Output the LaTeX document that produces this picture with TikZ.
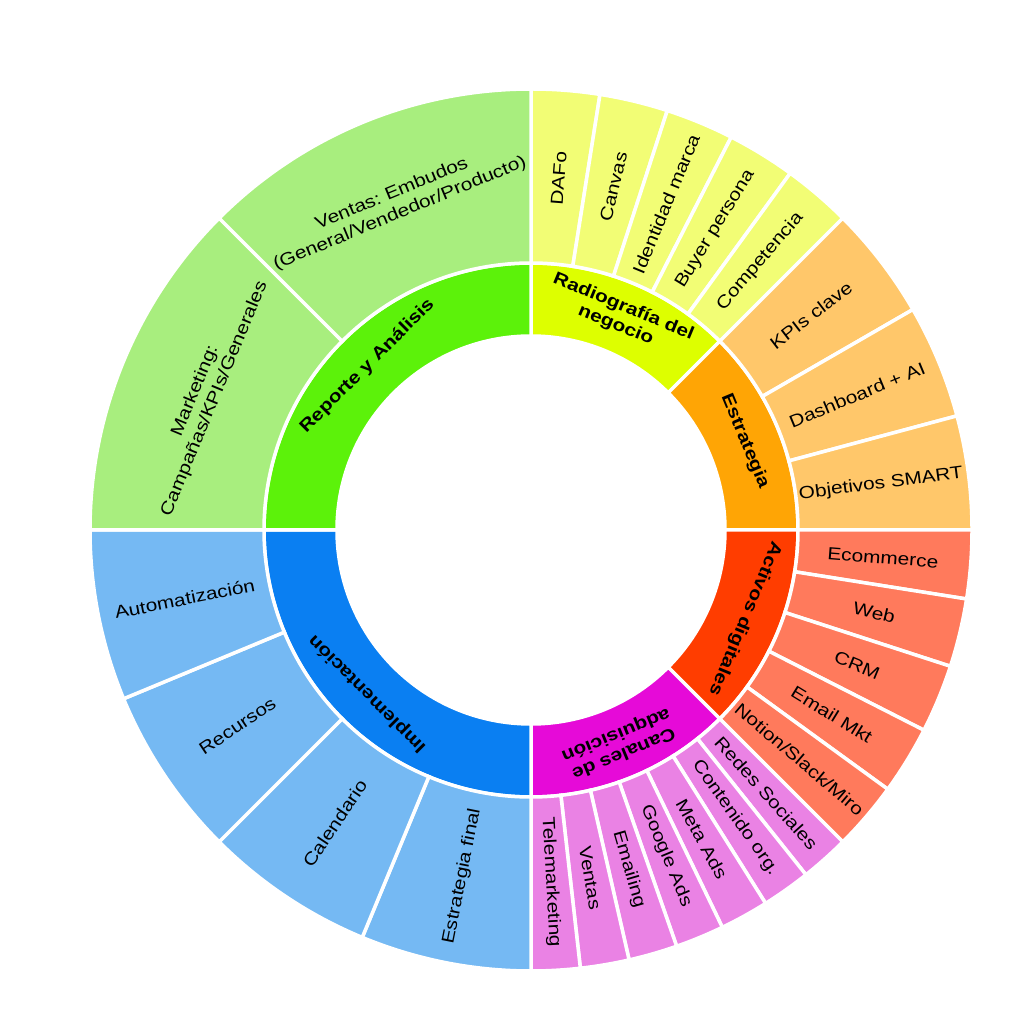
\documentclass[tikz,border=0pt]{standalone}
\usepackage{fontspec}
\setmainfont[FakeStretch=1.19]{Liberation Sans}
\frenchspacing
\usetikzlibrary{calc}
\definecolor{radI}{HTML}{DDFF00}
\definecolor{radO}{HTML}{F2FD75}
\definecolor{estI}{HTML}{FFA505}
\definecolor{estO}{HTML}{FFC76A}
\definecolor{actI}{HTML}{FF3D00}
\definecolor{actO}{HTML}{FF7A5C}
\definecolor{canI}{HTML}{E60AD8}
\definecolor{canO}{HTML}{EA82E4}
\definecolor{impI}{HTML}{0A7FF2}
\definecolor{impO}{HTML}{75B9F3}
\definecolor{repI}{HTML}{5CF20A}
\definecolor{repO}{HTML}{A8EE7E}
\newcommand{\sect}[5]{%
  \pgfmathsetmacro\angA{90-(#1)}%
  \pgfmathsetmacro\angB{90-(#2)}%
  \filldraw[fill=#5,draw=white,line width=3.5pt]
  ([shift={(C)}]\angA:#3pt) -- ([shift={(C)}]\angA:#4pt)
  arc[start angle=\angA, end angle=\angB, radius=#4pt]
  -- ([shift={(C)}]\angB:#3pt)
  arc[start angle=\angB, end angle=\angA, radius=#3pt] -- cycle;}
\newcommand{\olab}[4]{%
  \pgfmathsetmacro\angL{90-(#2)}%
  \node[lab, rotate=#3] (#1) at ([shift={(C)}]\angL:353pt) {#4};}
\newcommand{\ilab}[4]{%
  \pgfmathsetmacro\angL{90-(#2)}%
  \node[lab, font=\fontsize{17.5}{20}\selectfont\bfseries, rotate=#3] (#1) at ([shift={(C)}]\angL:231.5pt) {#4};}
\begin{document}
\begin{tikzpicture}[x=1pt,y=1pt,
  lab/.style={font=\fontsize{17.5}{21}\selectfont, text=black, align=center, inner sep=0pt}]
\useasboundingbox[fill=white] (0,0) rectangle (1024,1017);
\coordinate (C) at (531,487);
% inner ring
\sect{0}{45}{194}{267}{radI}
\sect{45}{90}{194}{267}{estI}
\sect{90}{135}{194}{267}{actI}
\sect{135}{180}{194}{267}{canI}
\sect{180}{270}{194}{267}{impI}
\sect{270}{360}{194}{267}{repI}
% outer ring: Radiografia
\foreach \i in {0,...,4}{\sect{9*\i}{9*\i+9}{267}{441}{radO}}
% Estrategia
\foreach \i in {0,...,2}{\sect{45+15*\i}{60+15*\i}{267}{441}{estO}}
% Activos
\foreach \i in {0,...,4}{\sect{90+9*\i}{99+9*\i}{267}{441}{actO}}
% Canales
\foreach \i in {0,...,6}{\sect{135+45/7*\i}{135+45/7*(\i+1)}{267}{441}{canO}}
% Implementacion
\foreach \i in {0,...,3}{\sect{180+22.5*\i}{202.5+22.5*\i}{267}{441}{impO}}
% Reporte
\foreach \i in {0,1}{\sect{270+45*\i}{315+45*\i}{267}{441}{repO}}
% inner labels
\ilab{radiografia}{22.5}{-22.5}{Radiografía del\\negocio}
\ilab{estrategia}{67.5}{-67.5}{Estrategia}
\ilab{activos}{112.5}{-112.5}{Activos digitales}
\ilab{canales}{157.5}{-157.5}{Canales de\\adquisición}
\ilab{implementacion}{225}{135}{Implementación}
\ilab{reporte}{315}{45}{Reporte y Análisis}
% outer labels
\olab{dafo}{4.5}{85.5}{DAFo}
\olab{canvas}{13.5}{76.5}{Canvas}
\olab{identidad}{22.5}{67.5}{Identidad marca}
\olab{buyer}{31.5}{58.5}{Buyer persona}
\olab{competencia}{40.5}{49.5}{Competencia}
\olab{kpis}{52.5}{37.5}{KPIs clave}
\olab{dashboard}{67.5}{22.5}{Dashboard + AI}
\olab{objetivos}{82.5}{7.5}{Objetivos SMART}
\olab{ecommerce}{94.5}{-4.5}{Ecommerce}
\olab{web}{103.5}{-13.5}{Web}
\olab{crm}{112.5}{-22.5}{CRM}
\olab{email}{121.5}{-31.5}{Email Mkt}
\olab{notion}{130.5}{-40.5}{Notion/Slack/Miro}
\olab{redes}{138.214}{-48.214}{Redes Sociales}
\olab{contenido}{144.643}{-54.643}{Contenido org.}
\olab{meta}{151.071}{-61.071}{Meta Ads}
\olab{google}{157.5}{-67.5}{Google Ads}
\olab{emailing}{163.929}{-73.929}{Emailing}
\olab{ventascan}{170.357}{-80.357}{Ventas}
\olab{telemarketing}{176.786}{-86.786}{Telemarketing}
\olab{estfinal}{191.25}{78.75}{Estrategia final}
\olab{calendario}{213.75}{56.25}{Calendario}
\olab{recursos}{236.25}{33.75}{Recursos}
\olab{automatizacion}{258.75}{11.25}{Automatización}
\olab{marketing}{292.5}{67.5}{Marketing:\\Campañas/KPIs/Generales}
\olab{ventasrep}{337.5}{22.5}{Ventas: Embudos\\(General/Vendedor/Producto)}
\end{tikzpicture}
\end{document}
